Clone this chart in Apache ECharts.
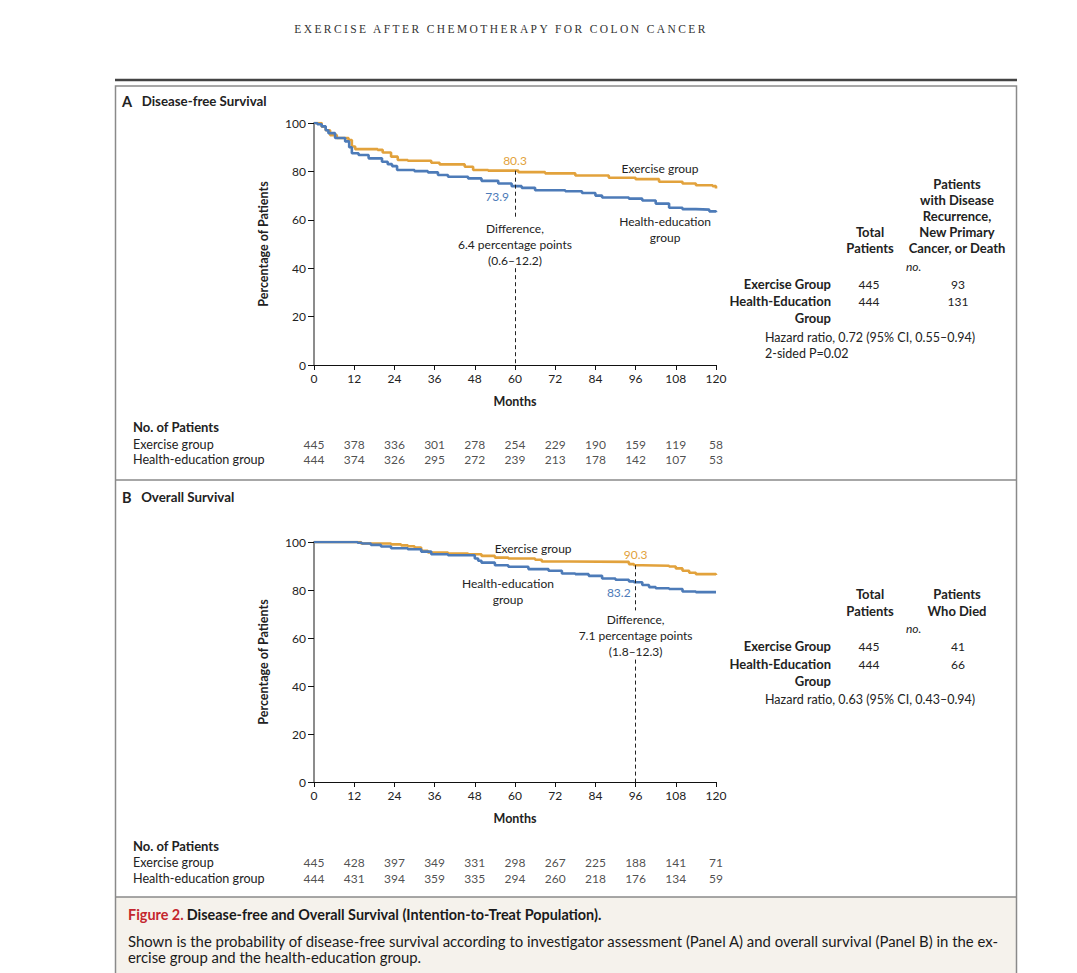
<!DOCTYPE html>
<html>
<head>
<meta charset="utf-8">
<script src="https://cdn.jsdelivr.net/npm/echarts@6/dist/echarts.min.js"></script>
<style>
  html, body { margin: 0; padding: 0; background: #fff; }
  #wrap { position: relative; width: 1077px; height: 973px; overflow: hidden; }
  #chart { position: absolute; left: 0; top: 0; width: 1077px; height: 973px; }
  #header { position: absolute; left: 0; width: 1002px; top: 23px; text-align: center;
    font-family: "Liberation Serif", "DejaVu Serif", serif; font-size: 11.5px; letter-spacing: 2.4px; color: #333; z-index: 2; }
</style>
</head>
<body>
<div id="wrap">
  <div id="chart"></div>
  <div id="header">EXERCISE AFTER CHEMOTHERAPY FOR COLON CANCER</div>
</div>
<script>
// ---------------- DATA ----------------
const monthTicks = [0, 12, 24, 36, 48, 60, 72, 84, 96, 108, 120];
const yTicks = [0, 20, 40, 60, 80, 100];
const groups = ['Exercise group', 'Health-education group'];

// Panel A: disease-free survival (Kaplan-Meier steps [month, %])
const dfsExercise = [[0,100],[2.3,98.5],[3.5,97],[4.8,95],[6.8,93.8],[10.3,93],[11.3,90.3],[12.3,89.2],[19,88.9],[20.5,87.8],[23,86.1],[25,84.7],[28,84.4],[35,83.6],[37.5,82.9],[45,81.9],[47.5,80.6],[52,80.3],[61,79.7],[69,79.2],[78,78.3],[88,77.4],[96,76.8],[103,75.7],[110,75],[114,74.3],[119,73.9],[120,72.9]];
const dfsHealth = [[0,100],[1,99.5],[2.3,98.6],[3.5,97],[4.3,95.8],[6.3,93.8],[9.3,92.4],[10.5,90],[11.3,87.5],[13.3,86.8],[16.3,85.4],[20.3,84],[22,83],[23.3,82.2],[24.8,80.6],[30,80.1],[34,79.6],[37,78.5],[40,77.8],[46,77.1],[50,76.1],[55,75],[59,73.9],[62,73.2],[66,72.2],[75,71.8],[80,71.1],[84,70],[86,69.2],[94,68.75],[98,68],[102,66.7],[106,65],[110,64.4],[114,64.2],[118,63.5],[120,63.1]];
const dfsRiskExercise = [445, 378, 336, 301, 278, 254, 229, 190, 159, 119, 58];
const dfsRiskHealth = [444, 374, 326, 295, 272, 239, 213, 178, 142, 107, 53];
const dfsMark = { month: 60, exercise: 80.3, health: 73.9 };

// Panel B: overall survival
const osExercise = [[0,100],[14,99.4],[23,99],[26,98.6],[28,98.2],[30,97.7],[32,96.3],[34,95.6],[40,95.2],[46,94.9],[50,94.2],[54,93.5],[58,93.1],[66,92.6],[68,91.9],[76,91.7],[94,90.8],[95.5,90.3],[98,90.1],[106,89.8],[108,89],[110,88],[112,87.2],[114,86.6],[120,86.2]];
const osHealth = [[0,100],[13,99.7],[14.3,99.4],[17,98.8],[20,98.1],[23,97.4],[28,97],[32,96],[35,94.9],[40,94.5],[48,93.1],[49,92.2],[50,91.4],[54,90.3],[58,89.7],[64,88.7],[70,88],[74,86.9],[78,86.6],[82,85.9],[86,84.8],[90,84.3],[94,83.6],[95.5,83.2],[98,82.1],[100,81.2],[102,80.7],[106,80.4],[110,79.4],[114,79.1],[120,79]];
const osRiskExercise = [445, 428, 397, 349, 331, 298, 267, 225, 188, 141, 71];
const osRiskHealth = [444, 431, 394, 359, 335, 294, 260, 218, 176, 134, 59];
const osMark = { month: 96, exercise: 90.3, health: 83.2 };

// ---------------- STYLE ----------------
const FONT = 'Lato, "Open Sans", sans-serif';
const ORANGE = '#E2A23C';
const BLUE = '#4D7BB8';
const TXT = '#222';

function riskData(arr, g) { return arr.map((v, i) => [monthTicks[i], g, v]); }

function xAxisCfg(gi) {
  return {
    gridIndex: gi, type: 'value', min: 0, max: 120, interval: 12,
    name: 'Months', nameLocation: 'middle', nameGap: 30,
    nameTextStyle: { fontFamily: FONT, fontWeight: 'bold', fontSize: 12.5, color: TXT },
    axisLine: { show: true, onZero: false, lineStyle: { color: '#111', width: 1 } },
    axisTick: { show: true, length: 5, lineStyle: { color: '#111' } },
    axisLabel: { fontFamily: FONT, fontSize: 12, color: TXT, margin: 7 },
    splitLine: { show: false }
  };
}
function yAxisCfg(gi) {
  return {
    gridIndex: gi, type: 'value', min: 0, max: 100, interval: 20,
    name: 'Percentage of Patients', nameLocation: 'middle', nameGap: 44, nameRotate: 90,
    nameTextStyle: { fontFamily: FONT, fontWeight: 'bold', fontSize: 12.5, color: TXT },
    axisLine: { show: true, lineStyle: { color: '#8c8c8c', width: 2 } },
    axisTick: { show: true, length: 6, lineStyle: { color: '#111' } },
    axisLabel: { fontFamily: FONT, fontSize: 12, color: TXT, margin: 8 },
    splitLine: { show: false }
  };
}
function riskX(gi) {
  return { gridIndex: gi, type: 'value', min: 0, max: 120, interval: 12, show: false };
}
function riskY(gi) {
  return {
    gridIndex: gi, type: 'category', data: groups, inverse: true,
    axisLine: { show: false }, axisTick: { show: false }, splitLine: { show: false },
    axisLabel: { interval: 0, hideOverlap: false, fontFamily: FONT, fontSize: 12.6, color: TXT, align: 'left', margin: 181 }
  };
}
function kmSeries(name, data, color, xi) {
  return {
    name, type: 'line', step: 'end', data, xAxisIndex: xi, yAxisIndex: xi,
    showSymbol: false, symbol: 'none', silent: true,
    lineStyle: { color, width: 2.6 }, z: 3
  };
}
function riskSeries(data, xi) {
  return {
    type: 'scatter', data, xAxisIndex: xi, yAxisIndex: xi, symbolSize: 0, silent: true,
    label: { show: true, position: 'inside', formatter: p => p.value[2], fontFamily: FONT, fontSize: 12, color: TXT }
  };
}
function noteLabel(text, opts) {
  return Object.assign({ show: true, formatter: text, fontFamily: FONT, fontSize: 12, color: TXT, lineHeight: 16 }, opts);
}

const textStyle = (text, x, y, o) => ({
  type: 'text', x, y, silent: true,
  style: Object.assign({ text, font: '12.5px ' + FONT, fill: TXT, textAlign: 'left', textVerticalAlign: 'middle' }, o || {})
});
const B = 'bold 13px ' + FONT;

const graphics = [
  { type: 'line', shape: { x1: 115, y1: 80, x2: 1017, y2: 80 }, style: { stroke: '#444', lineWidth: 2.5 } },
  { type: 'rect', shape: { x: 115.5, y: 897, width: 901, height: 80 }, style: { fill: '#F5F2EC', stroke: 'none' } },
  { type: 'rect', shape: { x: 115.5, y: 86, width: 901, height: 900 }, style: { fill: 'none', stroke: '#8a8a8a', lineWidth: 1.5 } },
  { type: 'line', shape: { x1: 115, y1: 480, x2: 1017, y2: 480 }, style: { stroke: '#8a8a8a', lineWidth: 1.5 } },
  { type: 'line', shape: { x1: 115, y1: 897, x2: 1017, y2: 897 }, style: { stroke: '#8a8a8a', lineWidth: 1.5 } },
  // panel titles
  textStyle('{a|A}   {t|Disease-free Survival}', 122, 101, { rich: { a: { font: 'bold 14.5px ' + FONT, fill: TXT }, t: { font: 'bold 13.3px ' + FONT, fill: TXT } } }),
  textStyle('{a|B}   {t|Overall Survival}', 122, 497, { rich: { a: { font: 'bold 14.5px ' + FONT, fill: TXT }, t: { font: 'bold 13.3px ' + FONT, fill: TXT } } }),
  textStyle('No. of Patients', 133, 427, { font: B }),
  textStyle('No. of Patients', 133, 846, { font: B }),
  // table A
  textStyle('Patients\nwith Disease\nRecurrence,\nNew Primary\nCancer, or Death', 957, 216, { font: B, textAlign: 'center', lineHeight: 16 }),
  textStyle('Total\nPatients', 870, 240, { font: B, textAlign: 'center', lineHeight: 16 }),
  textStyle('no.', 906, 266, { font: 'italic 12px ' + FONT }),
  textStyle('Exercise Group', 831, 284, { font: B, textAlign: 'right' }),
  textStyle('Health-Education', 831, 301, { font: B, textAlign: 'right' }),
  textStyle('Group', 831, 318, { font: B, textAlign: 'right' }),
  textStyle('445', 869, 284, { textAlign: 'center', font: '12px ' + FONT }),
  textStyle('444', 869, 301, { textAlign: 'center', font: '12px ' + FONT }),
  textStyle('93', 958, 284, { textAlign: 'center', font: '12px ' + FONT }),
  textStyle('131', 958, 301, { textAlign: 'center', font: '12px ' + FONT }),
  textStyle('Hazard ratio, 0.72 (95% CI, 0.55\u20130.94)', 765, 337),
  textStyle('2-sided P=0.02', 765, 353),
  // table B
  textStyle('Total\nPatients', 870, 602, { font: B, textAlign: 'center', lineHeight: 17 }),
  textStyle('Patients\nWho Died', 957, 602, { font: B, textAlign: 'center', lineHeight: 17 }),
  textStyle('no.', 906, 628, { font: 'italic 12px ' + FONT }),
  textStyle('Exercise Group', 831, 646, { font: B, textAlign: 'right' }),
  textStyle('Health-Education', 831, 664, { font: B, textAlign: 'right' }),
  textStyle('Group', 831, 681, { font: B, textAlign: 'right' }),
  textStyle('445', 869, 646, { textAlign: 'center', font: '12px ' + FONT }),
  textStyle('444', 869, 664, { textAlign: 'center', font: '12px ' + FONT }),
  textStyle('41', 958, 646, { textAlign: 'center', font: '12px ' + FONT }),
  textStyle('66', 958, 664, { textAlign: 'center', font: '12px ' + FONT }),
  textStyle('Hazard ratio, 0.63 (95% CI, 0.43\u20130.94)', 765, 699),
  // caption
  textStyle('{r|Figure 2.} {b|Disease-free and Overall Survival (Intention-to-Treat Population).}', 128, 914, {
    rich: { r: { font: 'bold 14.4px ' + FONT, fill: '#C4262E' }, b: { font: 'bold 14.4px ' + FONT, fill: '#1a1a1a' } } }),
  textStyle('Shown is the probability of disease-free survival according to investigator assessment (Panel A) and overall survival (Panel B) in the ex-\nercise group and the health-education group.', 128, 949, { font: '14.9px ' + FONT, fill: '#1a1a1a', lineHeight: 16.5 })
];

const chart = echarts.init(document.getElementById('chart'), null, { renderer: 'svg' });
const dash = { color: '#222', width: 1, type: [4, 3] };

chart.setOption({
  animation: false,
  backgroundColor: 'transparent',
  grid: [
    { left: 314, top: 123, width: 402, height: 242, outerBoundsMode: 'none' },
    { left: 314, top: 542, width: 402, height: 240, outerBoundsMode: 'none' },
    { left: 314, top: 436.5, width: 402, height: 30, outerBoundsMode: 'none' },
    { left: 314, top: 854, width: 402, height: 32, outerBoundsMode: 'none' }
  ],
  xAxis: [xAxisCfg(0), xAxisCfg(1), riskX(2), riskX(3)],
  yAxis: [yAxisCfg(0), yAxisCfg(1), riskY(2), riskY(3)],
  graphic: graphics,
  series: [
    Object.assign(kmSeries('Exercise group', dfsExercise, ORANGE, 0), {
      markLine: {
        silent: true, symbol: 'none', label: { show: false }, lineStyle: dash,
        data: [
          [{ coord: [dfsMark.month, dfsMark.exercise] }, { coord: [dfsMark.month, 60.5] }],
          [{ coord: [dfsMark.month, 40] }, { coord: [dfsMark.month, 0] }]
        ]
      },
      markPoint: {
        silent: true, symbol: 'circle', symbolSize: 0,
        data: [
          { coord: [dfsMark.month, dfsMark.exercise], label: noteLabel(String(dfsMark.exercise), { color: ORANGE, position: [0, -10], align: 'center', verticalAlign: 'middle' }) },
          { coord: [dfsMark.month, 50], label: noteLabel('Difference,\n' + (dfsMark.exercise - dfsMark.health).toFixed(1) + ' percentage points\n(0.6\u201312.2)', { position: [0, 0], align: 'center', verticalAlign: 'middle' }) },
          { coord: [103.3, 81.4], label: noteLabel('Exercise group', { position: [0, 0], align: 'center', verticalAlign: 'middle' }) }
        ]
      }
    }),
    Object.assign(kmSeries('Health-education group', dfsHealth, BLUE, 0), {
      markPoint: {
        silent: true, symbol: 'circle', symbolSize: 0,
        data: [
          { coord: [dfsMark.month, dfsMark.health], label: noteLabel(String(dfsMark.health), { color: BLUE, position: [-6, 10], align: 'right', verticalAlign: 'middle' }) },
          { coord: [104.8, 56], label: noteLabel('Health-education\ngroup', { position: [0, 0], align: 'center', verticalAlign: 'middle' }) }
        ]
      }
    }),
    Object.assign(kmSeries('Exercise group', osExercise, ORANGE, 1), {
      markLine: {
        silent: true, symbol: 'none', label: { show: false }, lineStyle: dash,
        data: [
          [{ coord: [osMark.month, osMark.exercise] }, { coord: [osMark.month, 71.5] }],
          [{ coord: [osMark.month, 51] }, { coord: [osMark.month, 0] }]
        ]
      },
      markPoint: {
        silent: true, symbol: 'circle', symbolSize: 0,
        data: [
          { coord: [osMark.month, osMark.exercise], label: noteLabel(String(osMark.exercise), { color: ORANGE, position: [0, -11], align: 'center', verticalAlign: 'middle' }) },
          { coord: [osMark.month, 61], label: noteLabel('Difference,\n' + (osMark.exercise - osMark.health).toFixed(1) + ' percentage points\n(1.8\u201312.3)', { position: [0, 0], align: 'center', verticalAlign: 'middle' }) },
          { coord: [65.4, 97.5], label: noteLabel('Exercise group', { position: [0, 0], align: 'center', verticalAlign: 'middle' }) }
        ]
      }
    }),
    Object.assign(kmSeries('Health-education group', osHealth, BLUE, 1), {
      markPoint: {
        silent: true, symbol: 'circle', symbolSize: 0,
        data: [
          { coord: [osMark.month, osMark.health], label: noteLabel(String(osMark.health), { color: BLUE, position: [-5, 10], align: 'right', verticalAlign: 'middle' }) },
          { coord: [57.9, 79.2], label: noteLabel('Health-education\ngroup', { position: [0, 0], align: 'center', verticalAlign: 'middle' }) }
        ]
      }
    }),
    riskSeries(riskData(dfsRiskExercise, groups[0]).concat(riskData(dfsRiskHealth, groups[1])), 2),
    riskSeries(riskData(osRiskExercise, groups[0]).concat(riskData(osRiskHealth, groups[1])), 3)
  ]
});
</script>
</body>
</html>
